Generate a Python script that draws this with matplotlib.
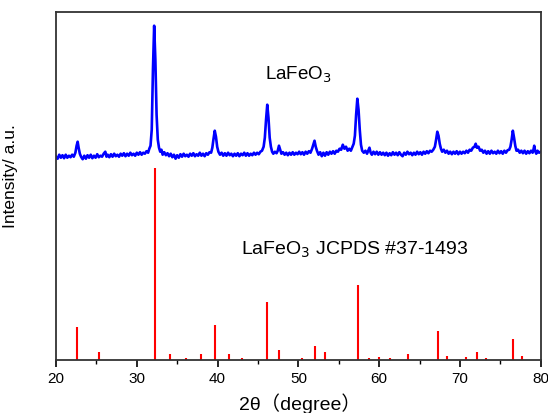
import matplotlib
matplotlib.use("Agg")
import matplotlib.pyplot as plt
from matplotlib.ticker import MultipleLocator, NullLocator

plt.rcParams['font.family'] = ['Liberation Sans', 'Noto Sans CJK SC', 'DejaVu Sans']

xrd_2theta = [
    20.0, 20.2, 20.4, 20.6, 20.8, 21.0, 21.2, 21.4, 21.6, 21.8, 22.0, 22.2, 22.4,
    22.55, 22.68, 22.8, 22.95,
    23.1, 23.3, 23.5, 23.7, 23.9, 24.1, 24.3, 24.5, 24.7, 24.9, 25.1, 25.3, 25.5, 25.7, 25.9,
    26.1, 26.25, 26.4, 26.6, 26.8, 27.0, 27.2, 27.4, 27.6, 27.8, 28.0, 28.2, 28.4, 28.6, 28.8,
    29.0, 29.2, 29.4, 29.6, 29.8, 30.0, 30.2, 30.4, 30.6, 30.8, 31.0, 31.2, 31.4,
    31.55, 31.7, 31.85, 32.0, 32.15, 32.3, 32.45, 32.6, 32.75, 32.9, 33.05,
    33.2, 33.4, 33.6, 33.8, 34.0, 34.2, 34.4, 34.6, 34.8, 35.0, 35.2, 35.4, 35.6, 35.8,
    36.0, 36.2, 36.4, 36.6, 36.8, 37.0, 37.2, 37.4, 37.6, 37.8, 38.0, 38.2, 38.4, 38.6,
    38.8, 39.0, 39.2, 39.35, 39.5, 39.65, 39.8, 39.95, 40.1,
    40.3, 40.5, 40.7, 40.9, 41.1, 41.3, 41.5, 41.7, 41.9, 42.1, 42.3, 42.5, 42.7, 42.9,
    43.1, 43.3, 43.5, 43.7, 43.9, 44.1, 44.3, 44.5, 44.7, 44.9, 45.1, 45.3, 45.5,
    45.7, 45.85, 46.0, 46.15, 46.3, 46.45, 46.6, 46.75, 46.9, 47.1, 47.3, 47.45, 47.6, 47.75,
    47.9, 48.1, 48.3, 48.5, 48.7, 48.9, 49.1, 49.3, 49.5, 49.7, 49.9, 50.1, 50.3, 50.5,
    50.7, 50.9, 51.1, 51.3, 51.5, 51.7, 51.85, 52.0, 52.15, 52.3,
    52.5, 52.7, 52.9, 53.1, 53.3, 53.5, 53.7, 53.9, 54.1, 54.3, 54.5, 54.7, 54.9, 55.1,
    55.3, 55.5, 55.7, 55.9, 56.1, 56.3, 56.5, 56.7, 56.85, 57.0, 57.15, 57.3, 57.45, 57.6,
    57.75, 57.9, 58.1, 58.3, 58.5, 58.7, 58.8, 58.95,
    59.1, 59.3, 59.5, 59.7, 59.9, 60.1, 60.3, 60.5, 60.7, 60.9, 61.1, 61.3, 61.5, 61.7,
    61.9, 62.1, 62.3, 62.5, 62.7, 62.9, 63.1, 63.3, 63.5, 63.7, 63.9, 64.1, 64.3, 64.5,
    64.7, 64.9, 65.1, 65.3, 65.5, 65.7, 65.9, 66.1, 66.3, 66.5, 66.7, 66.9,
    67.05, 67.2, 67.35, 67.5, 67.65, 67.8, 68.0, 68.2, 68.4, 68.6, 68.8, 69.0, 69.2, 69.4,
    69.6, 69.8, 70.0, 70.2, 70.4, 70.6, 70.8, 71.0, 71.2, 71.4, 71.6, 71.8, 71.95, 72.1,
    72.3, 72.5, 72.7, 72.9, 73.1, 73.3, 73.5, 73.7, 73.9, 74.1, 74.3, 74.5, 74.7, 74.9,
    75.1, 75.3, 75.5, 75.7, 75.9, 76.1, 76.25, 76.4, 76.55, 76.7, 76.85, 77.0,
    77.2, 77.4, 77.6, 77.8, 78.0, 78.2, 78.4, 78.6, 78.8, 79.0, 79.1, 79.2, 79.3, 79.45,
    79.6, 79.8, 80.0]
xrd_intensity = [
    203, 201, 205, 202, 204.5, 201.5, 205, 202, 204, 202.5, 205, 203, 207,
    214, 218, 212, 206,
    203, 200.5, 204, 201, 204.5, 202, 205, 201.5, 204, 202, 205.5, 202.5, 204, 203, 206,
    208, 203, 205, 202.5, 205.5, 203, 206, 203.5, 205, 203, 206, 204, 206.5, 203.5, 206,
    204, 207, 204.5, 206, 204, 207, 205, 207.5, 205, 207, 206, 208.5, 207,
    211, 214, 230, 290, 334, 300, 245, 220, 212, 208, 210,
    205, 207.5, 204.5, 206.5, 203.5, 206, 202.5, 205, 201, 204.5, 202, 205.5, 203, 206,
    203.5, 205, 203, 206, 204, 206.5, 203.5, 205.5, 204, 207, 204, 206, 203.5, 206.5,
    205, 207.5, 207, 212, 221, 229, 223, 213, 208,
    205, 207, 204, 206.5, 204, 207, 204.5, 206, 203.5, 206, 204, 206.5, 203.5, 206,
    204.5, 207, 204, 206.5, 204, 206, 204.5, 207, 205, 207, 205.5, 208, 209,
    213, 222, 240, 255, 242, 222, 213, 208, 206, 208, 206.5, 209, 214, 210,
    206, 207.5, 205, 207, 204.5, 207, 205, 207.5, 205, 207, 205.5, 208, 205.5, 207.5,
    205, 208, 206, 208.5, 207, 211, 215, 219, 213, 209,
    205, 207.5, 203.5, 207, 204, 207.5, 205, 208, 206, 208.5, 206, 209, 208, 211,
    210, 215, 211, 213, 209, 211, 209, 213, 216, 224, 245, 261, 250, 230,
    215, 209, 207, 209, 206, 210, 212, 207,
    205, 208, 205.5, 208, 205, 207.5, 205, 207, 204.5, 207, 204, 206.5, 204.5, 207.5,
    205, 207, 204.5, 207.5, 205, 203.5, 207, 205, 208, 205.5, 207, 204.5, 207, 205,
    208, 205.5, 207.5, 205, 208, 206, 208.5, 206.5, 209, 208, 210, 213,
    220, 228, 224, 216, 211, 208, 210, 207, 209, 206, 208, 205.5, 208, 206,
    208.5, 205.5, 208, 206, 208, 206.5, 209, 207, 210, 209, 212, 213, 216, 212,
    213, 209, 210, 207, 209, 206, 208.5, 206, 209, 206.5, 208, 206, 209, 206.5,
    208.5, 206, 209, 207, 209.5, 210, 213, 220, 229, 222, 214, 209,
    210, 207, 209, 206.5, 209, 206, 208.5, 206.5, 209, 207, 210, 214, 209, 206,
    209, 207, 208]

# JCPDS #37-1493 reference lines (2theta, relative intensity)
ref_2theta = [22.6, 25.3, 32.2, 34.1, 36.1, 37.9, 39.7, 41.4, 43.0, 46.1, 47.6, 50.5, 52.0,
              53.3, 57.4, 58.7, 60.0, 61.3, 63.6, 67.3, 68.4, 70.8, 72.1, 73.2, 76.6, 77.7]
ref_intensity = [33, 8, 192, 6, 2, 6, 35, 6, 2, 58, 10, 2, 14,
                 8, 75, 2, 2.5, 2, 6, 29, 4, 2.5, 8, 2, 21, 4]

x_ticks = [20, 30, 40, 50, 60, 70, 80]

n = min(len(xrd_2theta), len(xrd_intensity))

fig = plt.figure(figsize=(5.48, 4.14), dpi=100)
ax = fig.add_axes([0.1022, 0.1287, 0.8845, 0.8406])

ax.plot(xrd_2theta[:n], xrd_intensity[:n], color='#0000ff', lw=1.9)
ax.vlines(ref_2theta, 0, ref_intensity, color='#ff0000', lw=1.5)

ax.set_xlim(20, 80)
ax.set_ylim(0, 348)
ax.set_xticks(x_ticks)
ax.xaxis.set_minor_locator(MultipleLocator(5))
ax.yaxis.set_major_locator(NullLocator())
ax.tick_params(axis='x', which='major', direction='out', length=5, width=1.2, labelsize=11, pad=3)
ax.tick_params(axis='x', which='minor', direction='out', length=3, width=1.0)
for s in ax.spines.values():
    s.set_linewidth(1.3)
    s.set_color('#333333')

ax.text(50.0, 286, 'LaFeO$_3$', fontsize=13.5, ha='center', va='center')
ax.text(42.9, 111, 'LaFeO$_3$ JCPDS #37-1493', fontsize=14, ha='left', va='center')

ax.set_xlabel('2θ（degree）', fontsize=14)
ax.xaxis.set_label_coords(0.503, -0.093)
ax.set_ylabel('Intensity/ a.u.', fontsize=12.5)
ax.yaxis.set_label_coords(-0.078, 0.53)

fig.savefig('out.png', dpi=100)
